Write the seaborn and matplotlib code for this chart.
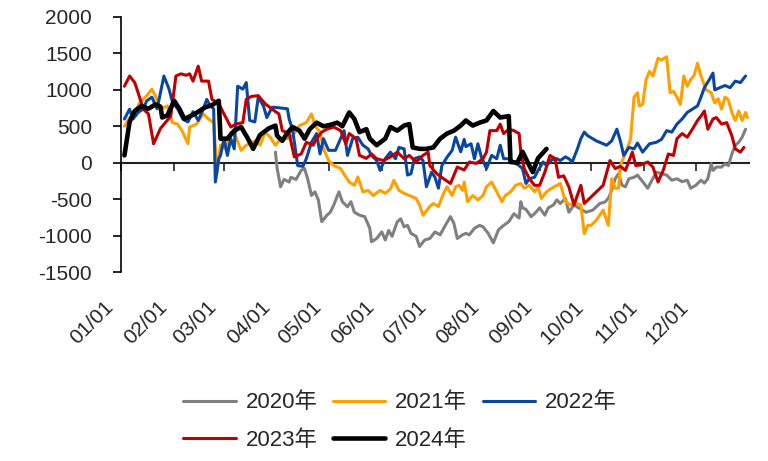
import pandas as pd
import numpy as np
import seaborn as sns
import matplotlib
matplotlib.use("Agg")
import matplotlib.pyplot as plt
import matplotlib.dates as mdates
from matplotlib.transforms import ScaledTranslation

# day offset from 01/01 (leap-year calendar) and value
days_2020 = [90, 91, 93, 95, 98, 99, 102, 105, 107, 109, 111, 113, 115, 117, 120, 122, 124, 127, 129,
             132, 134, 136, 139, 142, 145, 146, 149, 152, 154, 156, 158, 161, 163, 165, 167, 169, 172,
             174, 177, 180, 183, 186, 189, 192, 194, 196, 199, 201, 203, 206, 209, 211, 214, 217, 220,
             223, 226, 229, 232, 233, 234, 236, 239, 241, 244, 247, 249, 252, 254, 256, 259, 261, 264,
             266, 271, 275, 279, 282, 284, 286, 288, 290, 292, 294, 296, 299, 301, 304, 307, 309, 312,
             315, 318, 321, 324, 327, 330, 332, 335, 338, 340, 342, 344, 345, 347, 350, 352, 354, 356,
             358, 360, 362, 364]
vals_2020 = [145, -80, -330, -230, -265, -200, -230, -105, -80, -240, -450, -400, -510, -810, -720,
             -680, -580, -400, -535, -605, -535, -680, -720, -740, -900, -1085, -1040, -950, -1060,
             -930, -1010, -810, -770, -880, -860, -970, -1010, -1150, -1060, -1040, -950, -990, -860,
             -740, -830, -1040, -990, -970, -990, -900, -860, -880, -970, -1100, -920, -860, -810,
             -700, -760, -535, -620, -640, -740, -700, -620, -720, -620, -580, -510, -560, -490, -680,
             -580, -610, -680, -650, -560, -540, -490, -380, -220, -150, -310, -330, -220, -200, -170,
             -260, -350, -260, -130, -150, -170, -240, -220, -260, -240, -350, -310, -240, -280, -220,
             -15, -105, -60, -60, -15, -40, 120, 240, 280, 350, 460]

days_2021 = [2, 5, 8, 11, 15, 18, 20, 23, 27, 30, 33, 36, 39, 40, 44, 48, 51, 54, 56, 58, 61, 64, 67,
             70, 73, 76, 79, 81, 84, 87, 90, 93, 97, 100, 104, 108, 111, 113, 116, 118, 121, 124, 128,
             131, 133, 136, 138, 141, 144, 147, 151, 154, 157, 159, 162, 165, 168, 172, 174, 176, 180,
             182, 185, 188, 190, 193, 195, 197, 199, 200, 202, 205, 208, 211, 213, 216, 219, 222, 224,
             227, 230, 233, 235, 238, 241, 243, 245, 248, 251, 254, 256, 259, 262, 265, 268, 270, 272,
             274, 277, 281, 284, 286, 288, 290, 291, 293, 295, 297, 299, 301, 302, 304, 306, 308, 310,
             313, 315, 318, 320, 322, 324, 326, 328, 330, 332, 334, 336, 338, 341, 344, 346, 348, 350,
             352, 354, 356, 358, 360, 362, 364, 365]
vals_2021 = [500, 620, 690, 830, 920, 1010, 920, 735, 780, 550, 530, 420, 260, 490, 530, 670, 600, 550,
             -130, 240, 190, 420, 350, 170, 240, 280, 300, 240, 420, 350, 240, 330, 330, 370, 510, 550,
             670, 510, 420, 190, 30, -40, -80, -195, -265, -310, -195, -400, -380, -450, -380, -420,
             -360, -240, -380, -420, -450, -490, -580, -720, -600, -560, -600, -420, -330, -450, -330,
             -310, -380, -265, -535, -450, -510, -450, -330, -265, -400, -535, -450, -400, -310, -285,
             -350, -310, -400, -330, -490, -400, -350, -310, -285, -535, -580, -560, -580, -975, -860,
             -860, -790, -650, -860, -220, -350, -350, -40, 75, 190, 330, 900, 960, 780, 800, 1140,
             1255, 1190, 1435, 1410, 1455, 960, 980, 900, 800, 1190, 1050, 1140, 1200, 1365, 1190,
             1000, 960, 820, 880, 735, 900, 860, 690, 580, 710, 580, 690, 620]

days_2022 = [2, 5, 7, 10, 13, 15, 18, 21, 23, 25, 28, 30, 33, 36, 39, 42, 45, 48, 50, 52, 54, 55, 57,
             58, 60, 62, 64, 66, 68, 71, 73, 75, 78, 80, 83, 85, 88, 90, 97, 98, 100, 103, 106, 108,
             111, 114, 116, 118, 121, 125, 128, 130, 132, 135, 138, 141, 144, 146, 149, 151, 154, 157,
             160, 162, 165, 167, 169, 171, 174, 176, 178, 181, 183, 185, 187, 190, 193, 195, 198, 200,
             201, 204, 206, 208, 210, 213, 216, 219, 221, 223, 226, 229, 232, 234, 236, 238, 241, 243,
             246, 248, 251, 254, 256, 259, 261, 263, 266, 268, 270, 272, 277, 283, 286, 289, 291, 293,
             296, 299, 301, 304, 308, 312, 315, 318, 321, 324, 327, 330, 333, 336, 338, 340, 343, 345,
             346, 349, 352, 355, 358, 361, 364]
vals_2022 = [600, 735, 600, 690, 740, 850, 900, 740, 960, 1190, 1010, 830, 740, 600, 560, 700, 580,
             740, 870, 780, 740, -265, 55, 100, 330, 100, 330, 190, 1050, 1010, 1100, 580, 560, 900,
             780, 620, 760, 760, 740, 600, 450, -40, -50, 55, 280, 400, 120, 330, 170, 170, 330, 440,
             100, 330, 350, 240, 190, 100, 30, -105, 55, 145, 55, 210, 190, -170, -150, 55, 80, 30,
             -330, -130, -200, -350, -40, 75, 170, 350, 150, 320, 220, 260, 55, 260, 80, -80, 100, 55,
             240, 55, 55, 10, -40, -80, -285, -220, -200, -110, 10, -40, 40, 55, 30, 80, 55, 10, 190,
             330, 420, 370, 300, 240, 300, 460, 300, 100, 210, 190, 270, 145, 260, 280, 320, 440, 420,
             530, 600, 690, 735, 780, 900, 1030, 1145, 1230, 1000, 1030, 1060, 1030, 1120, 1100, 1190]

days_2023 = [2, 5, 8, 10, 13, 16, 19, 23, 29, 32, 35, 38, 40, 42, 45, 47, 51, 53, 57, 60, 64, 67, 71,
             73, 76, 80, 84, 88, 92, 94, 98, 101, 105, 108, 112, 114, 117, 120, 124, 128, 131, 133,
             137, 139, 143, 146, 149, 153, 157, 161, 165, 168, 172, 176, 179, 180, 184, 188, 192, 196,
             200, 203, 207, 211, 213, 215, 219, 221, 223, 226, 229, 232, 233, 235, 238, 241, 244, 247,
             250, 253, 255, 258, 261, 264, 268, 270, 281, 285, 288, 291, 294, 298, 300, 303, 307, 310,
             313, 316, 319, 322, 324, 327, 330, 333, 336, 338, 340, 342, 345, 347, 350, 353, 356, 358,
             361, 363]
vals_2023 = [1050, 1190, 1100, 960, 735, 670, 260, 470, 640, 1190, 1220, 1200, 1220, 1120, 1325, 1120,
             1120, 870, 810, 670, 490, 530, 550, 870, 910, 920, 810, 735, 670, 440, 400, 80, 120, 280,
             240, 330, 420, 460, 490, 440, 260, 400, 330, 100, 60, 120, 55, 30, 80, 145, 55, 100, 10,
             100, 145, -40, -150, -220, -285, -60, -100, 10, -10, 55, 145, 440, 440, 530, 400, 460,
             440, 400, 145, -80, -220, -310, -310, -130, 100, 55, -200, -180, -330, -580, -310, -560,
             -310, 30, -80, -50, -105, 145, -40, -30, 10, -60, -265, -105, 120, 100, 330, 400, 350,
             460, 580, 640, 710, 460, 600, 620, 530, 550, 370, 190, 145, 210]

days_2024 = [2, 5, 8, 12, 16, 20, 23, 24, 27, 31, 34, 37, 43, 49, 53, 57, 58, 62, 66, 70, 74, 77, 81,
             86, 90, 91, 94, 97, 100, 104, 107, 110, 114, 118, 122, 126, 129, 133, 136, 139, 143, 145,
             149, 154, 157, 161, 165, 168, 170, 174, 178, 182, 186, 190, 194, 198, 201, 205, 209, 213,
             217, 221, 226, 227, 231, 234, 238, 240, 243, 248]
vals_2024 = [100, 560, 710, 780, 740, 800, 770, 620, 650, 850, 740, 600, 670, 760, 790, 850, 330, 330,
             440, 490, 330, 190, 380, 470, 510, 370, 300, 410, 490, 440, 330, 460, 550, 500, 520, 550,
             500, 690, 600, 420, 460, 330, 240, 330, 490, 440, 510, 530, 210, 190, 190, 210, 330, 400,
             440, 510, 580, 510, 550, 580, 710, 620, 640, 10, 0, 150, -40, -130, 60, 190]

years = ["2020年", "2021年", "2022年", "2023年", "2024年"]
colors = ["#808080", "#FFA000", "#0A47A0", "#C00000", "#000000"]
widths = [2.2, 2.2, 2.2, 2.2, 3.3]
month_labels = ["01/01", "02/01", "03/01", "04/01", "05/01", "06/01",
                "07/01", "08/01", "09/01", "10/01", "11/01", "12/01"]

sns.set_theme(style="white")
plt.rcParams["font.family"] = ["Liberation Sans", "Noto Sans CJK SC", "DejaVu Sans"]
plt.rcParams["axes.unicode_minus"] = False

start = pd.Timestamp("2024-01-01")
series = [(days_2020, vals_2020), (days_2021, vals_2021), (days_2022, vals_2022),
          (days_2023, vals_2023), (days_2024, vals_2024)]

fig = plt.figure(figsize=(7.68, 4.61), dpi=100)
ax = fig.add_axes([121 / 768, 1 - 272 / 461, 628 / 768, 255 / 461])

for (d, v), name, c, lw in zip(series, years, colors, widths):
    df = pd.DataFrame({"date": start + pd.to_timedelta(d, unit="D"), "value": v})
    sns.lineplot(data=df, x="date", y="value", color=c, linewidth=lw, label=name, ax=ax)

ax.set_xlim(start, pd.Timestamp("2025-01-01"))
ax.set_ylim(-1500, 2000)
ax.set_yticks(np.arange(-1500, 2001, 500))
ax.set_xlabel("")
ax.set_ylabel("")

for s in ["top", "right"]:
    ax.spines[s].set_visible(False)
ax.spines["left"].set_color("black")
ax.spines["left"].set_linewidth(1.2)
ax.spines["bottom"].set_position(("data", 0))
ax.spines["bottom"].set_color("#222222")
ax.spines["bottom"].set_linewidth(1.5)
ax.spines["bottom"].set_zorder(1)

month_ticks = mdates.date2num(pd.date_range("2024-01-01", periods=12, freq="MS"))
ax.set_xticks(month_ticks)
ax.tick_params(axis="x", bottom=True, direction="out", length=6, width=1.2,
               color="#222222", labelbottom=False)
ax.tick_params(axis="y", left=True, direction="out", length=6, width=1.2,
               color="black", labelsize=15, pad=15)

# month labels sit at the bottom of the plot, ticks stay on the zero line
sec = ax.secondary_xaxis(0)
sec.set_xticks(month_ticks)
sec.set_xticklabels(month_labels)
sec.spines["bottom"].set_visible(False)
sec.tick_params(axis="x", length=0, labelsize=15, pad=14)
shift = ScaledTranslation(-0.17, -0.06, fig.dpi_scale_trans)
for lab in sec.get_xticklabels():
    lab.set_rotation(45)
    lab.set_ha("right")
    lab.set_rotation_mode("anchor")
    lab.set_transform(lab.get_transform() + shift)

# legend filled row by row: 2020 2021 2022 / 2023 2024
handles, labels = ax.get_legend_handles_labels()
order = [0, 3, 1, 4, 2]
ax.legend([handles[i] for i in order], [labels[i] for i in order], loc="upper center",
          bbox_to_anchor=(400 / 768, 0.168), bbox_transform=fig.transFigure, ncol=3,
          frameon=False, fontsize=16, handlelength=2.35, handletextpad=0.45,
          columnspacing=0.7, labelspacing=0.75, borderaxespad=0)

fig.savefig("out.png", dpi=100)
